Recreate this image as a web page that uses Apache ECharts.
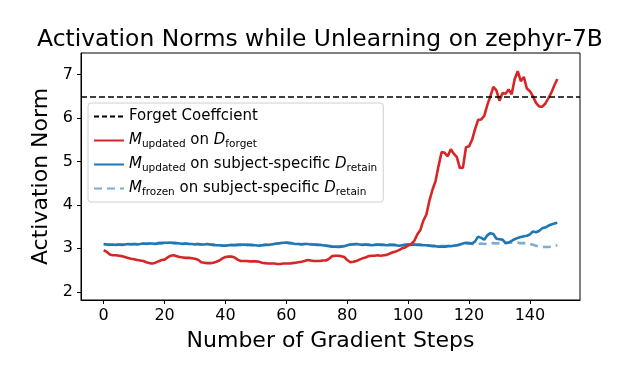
<!DOCTYPE html>
<html>
<head>
<meta charset="utf-8">
<script src="https://cdn.jsdelivr.net/npm/echarts@6/dist/echarts.min.js"></script>
<style>html,body{margin:0;padding:0;background:#fff}#c{width:631px;height:376px}</style>
</head>
<body>
<div id="c"></div>
<script>
const titleText = 'Activation Norms while Unlearning on zephyr-7B';
const xName = 'Number of Gradient Steps';
const yName = 'Activation Norm';
const xTicks = [0, 20, 40, 60, 80, 100, 120, 140];
const yTicks = [2, 3, 4, 5, 6, 7];
const forgetCoef = 6.5;
const seriesNames = ['Forget Coeffcient', 'M_updated on D_forget', 'M_updated on subject-specific D_retain', 'M_frozen on subject-specific D_retain'];

const updatedForget = [
2.96,2.92,2.86,2.84,2.84,2.83,2.82,2.80,2.78,2.76,
2.75,2.73,2.72,2.71,2.68,2.66,2.65,2.67,2.70,2.73,
2.74,2.79,2.83,2.84,2.82,2.80,2.79,2.78,2.78,2.77,
2.76,2.74,2.68,2.67,2.66,2.66,2.67,2.69,2.72,2.77,
2.80,2.81,2.81,2.79,2.74,2.71,2.71,2.71,2.70,2.70,
2.70,2.69,2.67,2.66,2.65,2.65,2.65,2.64,2.64,2.65,
2.65,2.65,2.66,2.67,2.68,2.69,2.71,2.73,2.72,2.71,
2.71,2.71,2.72,2.72,2.76,2.82,2.83,2.83,2.82,2.80,
2.73,2.68,2.69,2.71,2.74,2.77,2.79,2.82,2.83,2.83,
2.84,2.83,2.84,2.85,2.88,2.91,2.93,2.96,3.00,3.02,
3.06,3.10,3.17,3.32,3.42,3.64,3.78,4.10,4.35,4.55,
4.90,5.22,5.20,5.12,5.28,5.18,5.10,4.85,4.86,5.33,
5.35,5.50,5.75,5.96,5.97,6.05,6.30,6.50,6.72,6.64,
6.40,6.58,6.56,6.66,6.55,6.90,7.08,6.85,6.95,6.68,
6.62,6.50,6.35,6.27,6.26,6.33,6.45,6.58,6.75,6.90
];
const updatedRetain = [
3.10,3.09,3.08,3.09,3.08,3.09,3.08,3.09,3.10,3.09,
3.10,3.09,3.10,3.11,3.10,3.11,3.11,3.10,3.12,3.12,
3.13,3.13,3.13,3.12,3.12,3.11,3.10,3.11,3.10,3.10,
3.09,3.10,3.09,3.09,3.10,3.09,3.08,3.07,3.07,3.06,
3.06,3.07,3.08,3.07,3.08,3.08,3.09,3.08,3.08,3.07,
3.07,3.06,3.07,3.08,3.08,3.09,3.10,3.11,3.12,3.13,
3.13,3.12,3.11,3.10,3.10,3.09,3.10,3.10,3.09,3.09,
3.08,3.08,3.07,3.06,3.05,3.04,3.04,3.03,3.04,3.05,
3.07,3.09,3.09,3.10,3.09,3.08,3.09,3.08,3.07,3.08,
3.09,3.08,3.08,3.07,3.08,3.08,3.07,3.06,3.07,3.08,
3.09,3.08,3.09,3.08,3.08,3.07,3.07,3.06,3.05,3.05,
3.04,3.04,3.04,3.05,3.05,3.06,3.07,3.09,3.11,3.13,
3.12,3.11,3.16,3.27,3.24,3.20,3.30,3.35,3.33,3.22,
3.21,3.20,3.12,3.13,3.17,3.21,3.24,3.26,3.28,3.29,
3.32,3.39,3.37,3.40,3.46,3.48,3.52,3.55,3.57,3.59
];
const frozenRetain = [
3.10,3.09,3.09,3.09,3.08,3.09,3.09,3.09,3.10,3.10,
3.10,3.10,3.10,3.11,3.11,3.11,3.11,3.11,3.12,3.12,
3.13,3.13,3.13,3.13,3.12,3.11,3.11,3.11,3.10,3.10,
3.10,3.10,3.09,3.09,3.10,3.09,3.08,3.08,3.07,3.07,
3.07,3.07,3.08,3.08,3.08,3.09,3.09,3.08,3.08,3.08,
3.07,3.07,3.07,3.08,3.09,3.09,3.10,3.11,3.12,3.14,
3.14,3.13,3.12,3.11,3.10,3.10,3.10,3.10,3.10,3.09,
3.09,3.08,3.07,3.07,3.06,3.05,3.05,3.04,3.05,3.06,
3.08,3.09,3.10,3.10,3.10,3.09,3.09,3.09,3.08,3.08,
3.09,3.09,3.08,3.08,3.08,3.08,3.08,3.07,3.07,3.08,
3.09,3.09,3.09,3.09,3.08,3.08,3.07,3.07,3.06,3.06,
3.05,3.05,3.05,3.05,3.06,3.06,3.07,3.08,3.10,3.11,
3.11,3.10,3.10,3.10,3.11,3.10,3.11,3.12,3.12,3.11,
3.12,3.12,3.13,3.14,3.13,3.13,3.13,3.12,3.12,3.12,
3.10,3.08,3.06,3.04,3.03,3.03,3.03,3.04,3.06,3.07
];

const steps = updatedForget.map((_, i) => i);
const pair = arr => arr.map((v, i) => [steps[i], v]);

const richLegend = {
  'Forget Coeffcient': 'Forget Coeffcient',
  'M_updated on D_forget': '{i|M}{s|updated} on {i|D}{s|forget}',
  'M_updated on subject-specific D_retain': '{i|M}{s|updated} on subject-specific {i|D}{s|retain}',
  'M_frozen on subject-specific D_retain': '{i|M}{s|frozen} on subject-specific {i|D}{s|retain}'
};

const FONT = 'DejaVu Sans';
const chart = echarts.init(document.getElementById('c'), null, {renderer: 'canvas'});
chart.setOption({
  animation: false,
  backgroundColor: '#fff',
  title: {
    text: titleText, left: 315, top: 23, textAlign: 'center',
    textStyle: {fontFamily: FONT, fontSize: 23.4, fontWeight: 'normal', color: '#000'}
  },
  grid: {left: 81, right: 51, top: 53, bottom: 76, show: true, borderColor: '#000', borderWidth: 1, backgroundColor: 'transparent'},
  legend: {
    orient: 'vertical', left: 88, top: 103,
    data: seriesNames,
    itemWidth: 30, itemHeight: 10, itemGap: 5,
    backgroundColor: 'rgba(255,255,255,0.8)', borderColor: '#d0d0d0', borderWidth: 1, borderRadius: 3,
    padding: [4, 6, 4, 5],
    itemStyle: {opacity: 0},
    formatter: n => richLegend[n],
    textStyle: {
      fontFamily: FONT, fontSize: 15, color: '#000', lineHeight: 19,
      rich: {
        i: {fontFamily: FONT, fontSize: 15, fontStyle: 'italic', color: '#000'},
        s: {fontFamily: FONT, fontSize: 10.5, color: '#000', verticalAlign: 'bottom', lineHeight: 12}
      }
    }
  },
  xAxis: {
    type: 'value', min: -7.45, max: 156.45,
    name: xName, nameLocation: 'middle', nameGap: 30,
    nameTextStyle: {fontFamily: FONT, fontSize: 22, color: '#000'},
    axisLine: {show: true, onZero: false, lineStyle: {color: '#000', width: 1}},
    axisTick: {show: true, inside: false, length: 4, lineStyle: {color: '#000'}, customValues: xTicks},
    axisLabel: {fontFamily: FONT, fontSize: 16, color: '#000', margin: 8, customValues: xTicks},
    splitLine: {show: false}
  },
  yAxis: {
    type: 'value', min: 1.81, max: 7.5,
    name: yName, nameLocation: 'middle', nameGap: 27,
    nameTextStyle: {fontFamily: FONT, fontSize: 22, color: '#000'},
    axisLine: {show: true, onZero: false, lineStyle: {color: '#000', width: 1}},
    axisTick: {show: true, inside: false, length: 4, lineStyle: {color: '#000'}, customValues: yTicks},
    axisLabel: {fontFamily: FONT, fontSize: 16, color: '#000', margin: 8, customValues: yTicks},
    splitLine: {show: false}
  },
  series: [
    {
      name: seriesNames[0], type: 'line', data: [], symbol: 'none',
      lineStyle: {color: '#000', width: 1.5, type: [5, 3]}, itemStyle: {color: '#000'},
      markLine: {silent: true, symbol: 'none', label: {show: false},
        lineStyle: {color: '#000', width: 1.5, type: [6, 3]}, data: [{yAxis: forgetCoef}]}
    },
    {
      name: seriesNames[1], type: 'line', data: pair(updatedForget), symbol: 'none', z: 4,
      lineStyle: {color: '#d62728', width: 2.6}, itemStyle: {color: '#d62728'}
    },
    {
      name: seriesNames[3], type: 'line', data: pair(frozenRetain), symbol: 'none', z: 2,
      lineStyle: {color: 'rgba(31,119,180,0.6)', width: 2.6, type: [8, 5]}, itemStyle: {color: 'rgba(31,119,180,0.6)'}
    },
    {
      name: seriesNames[2], type: 'line', data: pair(updatedRetain), symbol: 'none', z: 3,
      lineStyle: {color: '#1f77b4', width: 2.6}, itemStyle: {color: '#1f77b4'}
    }
  ]
});
</script>
</body>
</html>
